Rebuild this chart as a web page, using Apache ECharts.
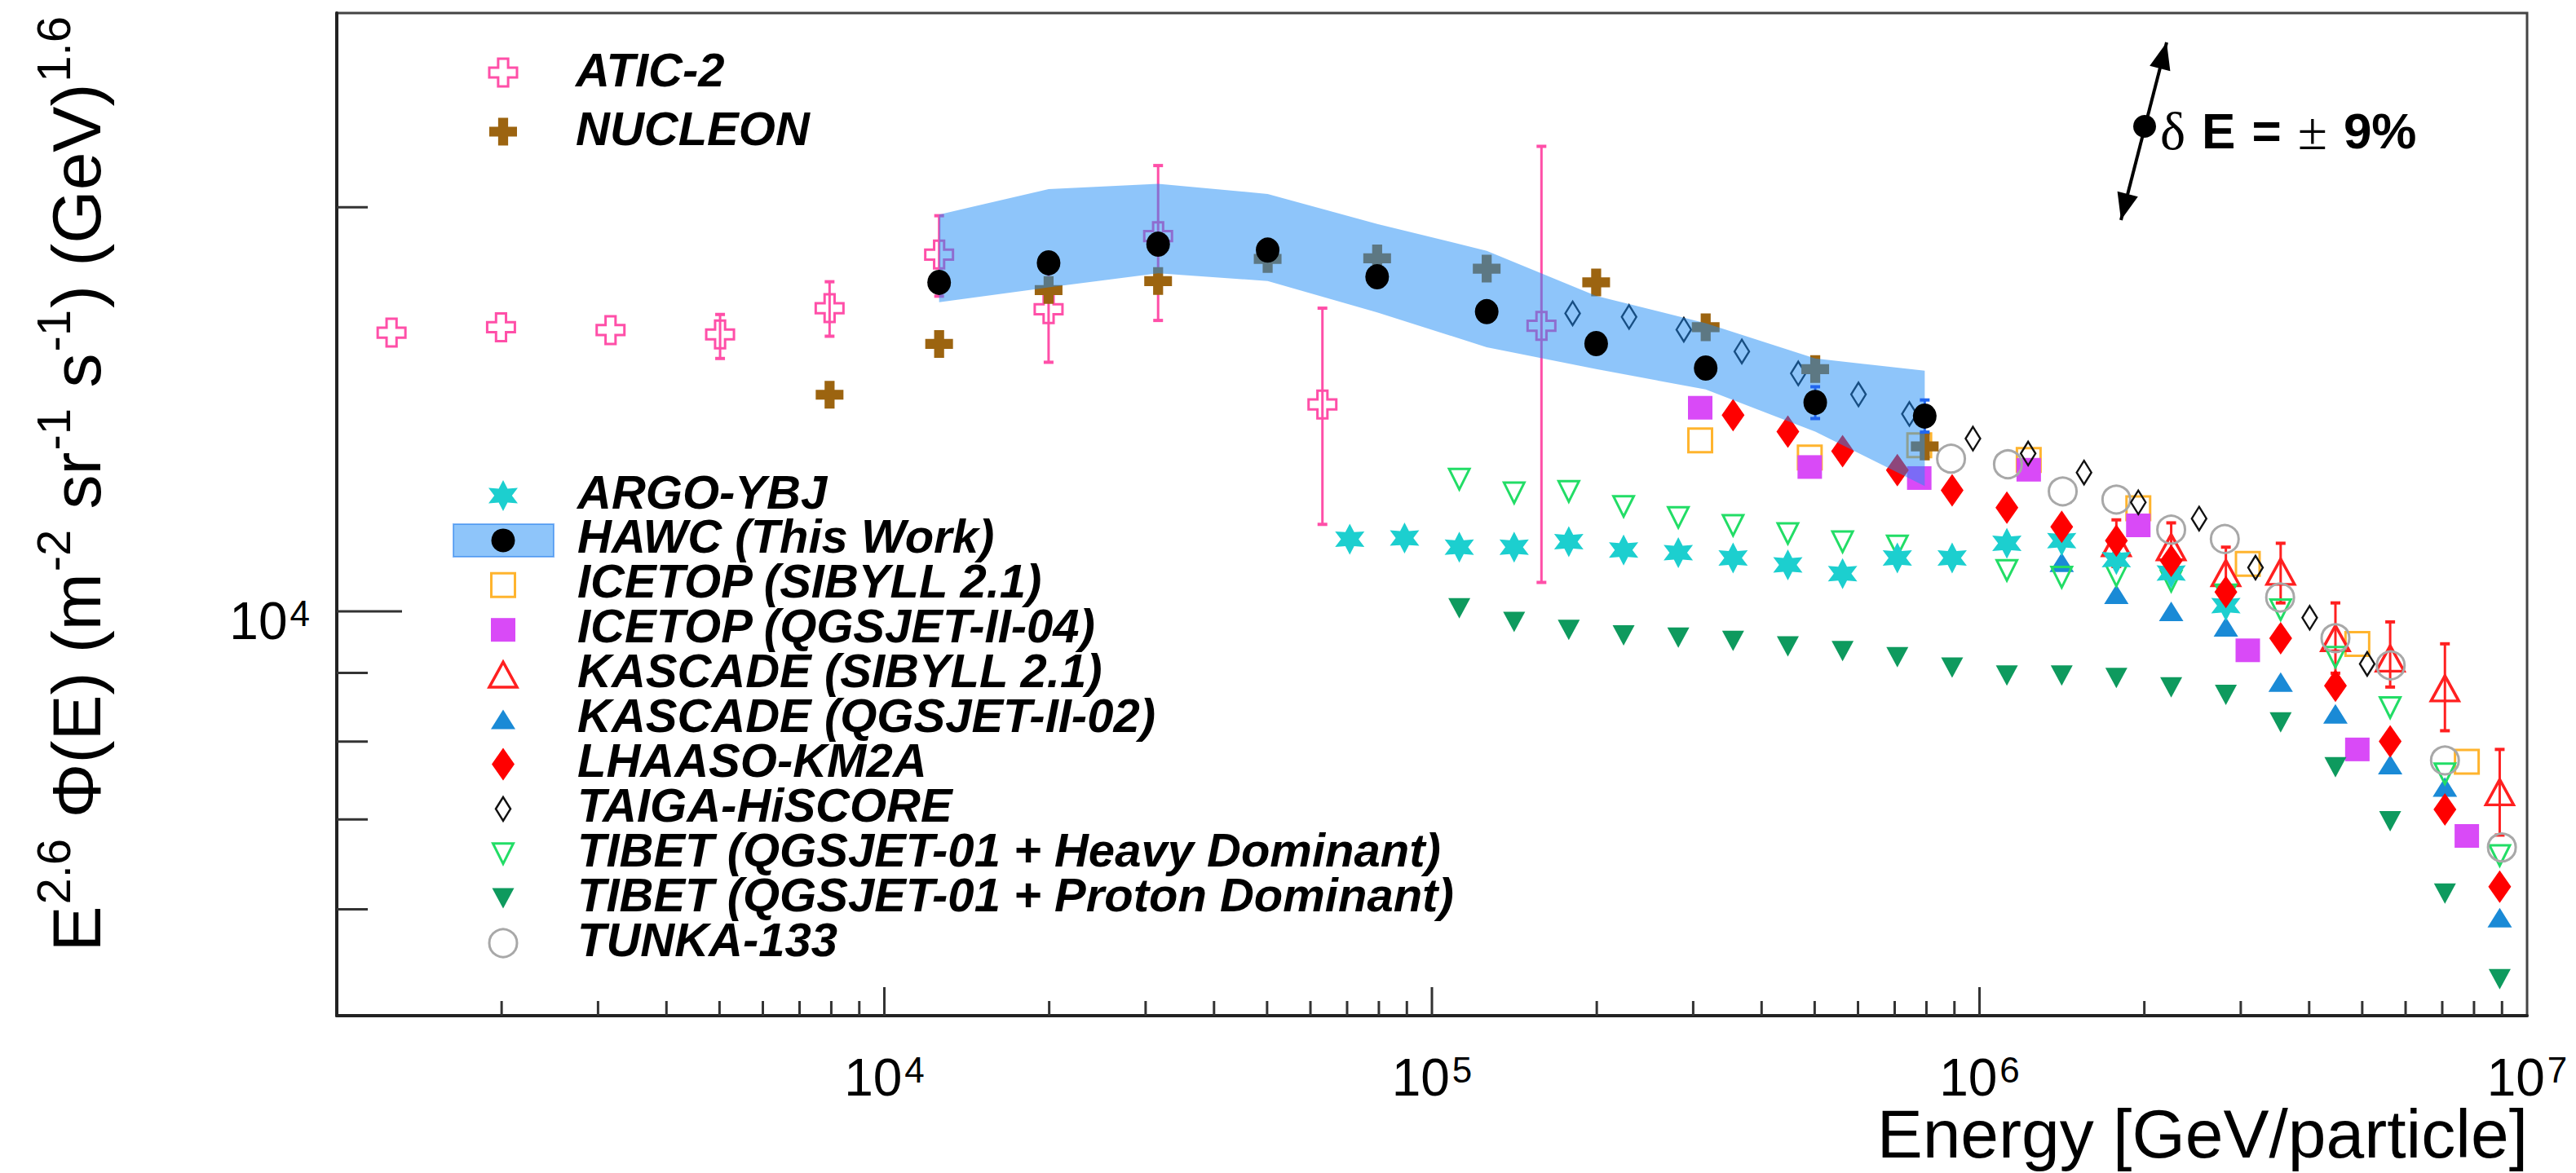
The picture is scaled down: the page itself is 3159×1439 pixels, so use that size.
<!DOCTYPE html>
<html><head><meta charset="utf-8">
<script src="https://cdn.jsdelivr.net/npm/echarts@6/dist/echarts.min.js"></script>
<style>html,body{margin:0;padding:0;background:#fff}#c{width:3159px;height:1439px}</style>
</head><body><div id="c"></div>
<script>
// ---------------- DATA ----------------
const X_MIN = 1000, X_MAX = 1e7, Y_MIN = 5000, Y_MAX = 27900;

const aticE  = [1259, 1995, 3162, 5012, 7943, 12590, 19950, 31620, 63100, 158500];
const aticY  = [16130, 16280, 16200, 16080, 16820, 18440, 16790, 19030, 14260, 16320];
const aticLo = [16130, 16280, 16200, 15430, 16030, 17170, 15330, 16470, 11610, 10510];
const aticHi = [16130, 16280, 16200, 16640, 17600, 19710, 18380, 21480, 16820, 22200];

const nucE = [7943, 12590, 19950, 31620, 50120, 79430, 125900, 199500, 316200, 501200, 794300];
const nucY = [14500, 15820, 17350, 17620, 18300, 18320, 18000, 17580, 16280, 15150, 13270];

const argoE = [70790, 89130, 112200, 141300, 177800, 223900, 281800, 354800, 446700, 562300, 707900, 891300, 1122000, 1413000, 1778000, 2239000, 2818000];
const argoY = [11320, 11340, 11165, 11165, 11270, 11110, 11060, 10960, 10830, 10670, 10960, 10960, 11240, 11290, 10930, 10680, 10100];

const hawcE     = [12590, 19950, 31620, 50120, 79430, 125900, 199500, 316200, 501200, 794300];
const hawcY     = [17580, 18180, 18770, 18580, 17750, 16720, 15830, 15180, 14310, 13980];
const hawcLo    = [17300, 17900, 18480, 18300, 17480, 16460, 15580, 14920, 13920, 13600];
const hawcHi    = [17860, 18460, 19060, 18860, 18020, 16980, 16080, 15440, 14700, 14370];
const hawcSysLo = [16990, 17430, 17860, 17620, 16700, 15730, 15150, 14630, 13610, 12400];
const hawcSysHi = [19750, 20630, 20820, 20460, 19430, 18560, 17180, 16390, 15430, 15110];

const icSibE = [309000, 489800, 776200, 1230000, 1950000, 3090000, 4898000, 7762000];
const icSibY = [13410, 13020, 13295, 12965, 11935, 10850, 9456, 7727];
const icQgsE = [309000, 489800, 776200, 1230000, 1950000, 3090000, 4898000, 7762000];
const icQgsY = [14180, 12810, 12570, 12750, 11590, 9355, 7893, 6805];

const kaSibE  = [1778000, 2239000, 2818000, 3548000, 4467000, 5623000, 7079000, 8913000];
const kaSibY  = [11240, 11165, 10680, 10705, 9552, 9225, 8765, 7335];
const kaSibLo = [10800, 10700, 10200, 10147, 8995, 8784, 8150, 6815];
const kaSibHi = [11700, 11640, 11165, 11240, 10147, 9822, 9460, 7893];

const kaQgsE = [1413000, 1778000, 2239000, 2818000, 3548000, 4467000, 5623000, 7079000, 8913000];
const kaQgsY = [10880, 10300, 10000, 9740, 8860, 8390, 7690, 7400, 5915];

const lhaasoE = [354800, 446700, 562300, 707900, 891300, 1122000, 1413000, 1778000, 2239000, 2818000, 3548000, 4467000, 5623000, 7079000, 8913000];
const lhaasoY = [14000, 13610, 13160, 12740, 12310, 11950, 11560, 11290, 10905, 10337, 9552, 8805, 8003, 7121, 6237];

const taigaE = [180700, 229100, 288400, 368100, 466700, 601200, 744700, 972800, 1227000, 1552000, 1950000, 2518000, 3192000, 4009000, 5105000];
const taigaY = [16670, 16570, 16210, 15615, 15040, 14510, 14030, 13450, 13110, 12690, 12057, 11725, 10780, 9893, 9140];

const tibHE = [112200, 141300, 177800, 223900, 281800, 354800, 446700, 562300, 707900, 1122000, 1413000, 1778000, 2239000, 2818000, 3548000, 4467000, 5623000, 7079000, 8913000];
const tibHY = [12545, 12255, 12285, 11975, 11750, 11590, 11430, 11270, 11190, 10730, 10605, 10630, 10535, 10290, 10030, 9245, 8480, 7570, 6580];

const tibPE = [112200, 141300, 177800, 223900, 281800, 354800, 446700, 562300, 707900, 891300, 1122000, 1413000, 1778000, 2239000, 2818000, 3548000, 4467000, 5623000, 7079000, 8913000];
const tibPY = [10053, 9822, 9687, 9596, 9561, 9507, 9419, 9341, 9245, 9083, 8960, 8960, 8920, 8780, 8665, 8268, 7656, 6977, 6165, 5323];

const tunkaE = [887200, 1127000, 1419000, 1778000, 2239000, 2805000, 3540000, 4467000, 5636000, 7079000, 8995000];
const tunkaY = [12995, 12870, 12285, 12115, 11505, 11322, 10242, 9552, 9117, 7746, 6672];

const xMajorTicks = [10000, 100000, 1000000];
const xMinorTicks = [2000,3000,4000,5000,6000,7000,8000,9000, 20000,30000,40000,50000,60000,70000,80000,90000,
                     200000,300000,400000,500000,600000,700000,800000,900000, 2e6,3e6,4e6,5e6,6e6,7e6,8e6,9e6];
const yMajorTicks = [10000];
const yMinorTicks = [6000, 7000, 8000, 9000, 20000];

const legendTop = ['ATIC-2', 'NUCLEON'];
const legendMain = ['ARGO-YBJ', 'HAWC (This Work)', 'ICETOP (SIBYLL 2.1)', 'ICETOP (QGSJET-II-04)',
  'KASCADE (SIBYLL 2.1)', 'KASCADE (QGSJET-II-02)', 'LHAASO-KM2A', 'TAIGA-HiSCORE',
  'TIBET (QGSJET-01 + Heavy Dominant)', 'TIBET (QGSJET-01 + Proton Dominant)', 'TUNKA-133'];

// ---------------- STYLE ----------------
const FF = '"Liberation Sans", Arial, Helvetica, sans-serif';
const FS = '"Liberation Serif", "DejaVu Serif", serif';
const S_CROSS = [[3.2,0],[6.8,0],[6.8,3.2],[10,3.2],[10,6.8],[6.8,6.8],[6.8,10],[3.2,10],[3.2,6.8],[0,6.8],[0,3.2],[3.2,3.2]];
const S_STAR6 = [[5,0],[6.3,2.75],[9.33,2.5],[7.6,5],[9.33,7.5],[6.3,7.25],[5,10],[3.7,7.25],[0.67,7.5],[2.4,5],[0.67,2.5],[3.7,2.75]];
const S_SQUARE = [[0,0],[10,0],[10,10],[0,10]];
const S_TRI_UP = [[5,0],[10,10],[0,10]];
const S_TRI_DN = [[0,0],[10,0],[5,10]];
const S_DIAMOND = [[5,0],[10,5],[5,10],[0,5]];
const TR = 'rgba(0,0,0,0)';
const BAND = 'rgba(30,140,245,0.5)';

function toPath(pts) { return 'path://M' + pts.map(p => p[0] + ',' + p[1]).join(' L') + ' Z'; }
function fitPts(pts, cx, cy, w, h) {
  const xs = pts.map(p=>p[0]), ys = pts.map(p=>p[1]);
  const x0 = Math.min(...xs), x1 = Math.max(...xs), y0 = Math.min(...ys), y1 = Math.max(...ys);
  return pts.map(p => [cx - w/2 + (p[0]-x0)/(x1-x0)*w, cy - h/2 + (p[1]-y0)/(y1-y0)*h]);
}

const STY = {
  'ATIC-2':   {p:S_CROSS, s:[34,34], fill:TR, stroke:'#ff4fa8', lw:3},
  'NUCLEON':  {p:S_CROSS, s:[34,34], fill:'#9c6410', stroke:TR, lw:0},
  'ARGO-YBJ': {p:S_STAR6, s:[36,38], fill:'#1ccfcf', stroke:TR, lw:0},
  'HAWC (This Work)': {p:null, s:[29,31], fill:'#000', stroke:TR, lw:0},
  'ICETOP (SIBYLL 2.1)':   {p:S_SQUARE, s:[29,29], fill:TR, stroke:'#ffb42e', lw:3},
  'ICETOP (QGSJET-II-04)': {p:S_SQUARE, s:[30,29], fill:'#d94af7', stroke:TR, lw:0},
  'KASCADE (SIBYLL 2.1)':  {p:S_TRI_UP, s:[34,31], fill:TR, stroke:'#ff2020', lw:3.5},
  'KASCADE (QGSJET-II-02)':{p:S_TRI_UP, s:[30,24], fill:'#1a8ad6', stroke:TR, lw:0},
  'LHAASO-KM2A':   {p:S_DIAMOND, s:[28,40], fill:'#ff0000', stroke:TR, lw:0},
  'TAIGA-HiSCORE': {p:S_DIAMOND, s:[18,29], fill:TR, stroke:'#111', lw:2.5},
  'TIBET (QGSJET-01 + Heavy Dominant)':  {p:S_TRI_DN, s:[25,25], fill:TR, stroke:'#22dd66', lw:3},
  'TIBET (QGSJET-01 + Proton Dominant)': {p:S_TRI_DN, s:[27,25], fill:'#0e9a5e', stroke:TR, lw:0},
  'TUNKA-133': {p:null, s:[34,34], fill:TR, stroke:'#a8a8a8', lw:3}
};

function scatter(name, E, Y, z) {
  const st = STY[name];
  return {
    type:'scatter', name, z: z || 3, silent:true, animation:false,
    data: E.map((e,i)=>[e, Y[i]]),
    symbol: st.p ? toPath(st.p) : 'circle',
    symbolSize: st.s,
    itemStyle: {color: st.fill, borderColor: st.stroke, borderWidth: st.lw, opacity: 1},
    emphasis: {disabled:true}
  };
}
function errBars(E, lo, hi, color, z) {
  return {
    type:'custom', z, silent:true, animation:false,
    data: E.map((e,i)=>[e, lo[i], hi[i]]),
    encode: {x:0, y:[1,2]},
    renderItem(params, api) {
      const e = api.value(0), l = api.value(1), h = api.value(2);
      if (l === h) return {type:'group', children:[]};
      const a = api.coord([e, l]), b = api.coord([e, h]);
      return {type:'group', children:[
        {type:'line', shape:{x1:a[0], y1:a[1], x2:b[0], y2:b[1]}, style:{stroke:color, lineWidth:3}},
        {type:'line', shape:{x1:a[0]-6, y1:a[1], x2:a[0]+6, y2:a[1]}, style:{stroke:color, lineWidth:4}},
        {type:'line', shape:{x1:b[0]-6, y1:b[1], x2:b[0]+6, y2:b[1]}, style:{stroke:color, lineWidth:4}}
      ]};
    }
  };
}

const tickSeriesX = {
  type:'custom', z:20, silent:true, animation:false,
  data: xMinorTicks.map(v=>[v, Y_MIN, 0]).concat(xMajorTicks.map(v=>[v, Y_MIN, 1])),
  encode:{x:0, y:1},
  renderItem(params, api) {
    const p = api.coord([api.value(0), Y_MIN]);
    const len = api.value(2) ? 35 : 18;
    return {type:'line', shape:{x1:p[0], y1:p[1], x2:p[0], y2:p[1]-len}, style:{stroke:'#333', lineWidth:3}};
  }
};
const tickSeriesY = {
  type:'custom', z:20, silent:true, animation:false,
  data: yMinorTicks.map(v=>[X_MIN, v, 0]).concat(yMajorTicks.map(v=>[X_MIN, v, 1])),
  encode:{x:0, y:1},
  renderItem(params, api) {
    const p = api.coord([X_MIN, api.value(1)]);
    const len = api.value(2) ? 80 : 38;
    return {type:'line', shape:{x1:p[0], y1:p[1], x2:p[0]+len, y2:p[1]}, style:{stroke:'#333', lineWidth:3}};
  }
};

const bandSeries = {
  type:'custom', z:8, silent:true, animation:false,
  data: hawcE.map((e,i)=>[e, hawcSysLo[i], hawcSysHi[i]]),
  encode:{x:0, y:[1,2]},
  renderItem(params, api) {
    if (params.dataIndex !== 0) return {type:'group', children:[]};
    const up = hawcE.map((e,i)=>api.coord([e, hawcSysHi[i]]));
    const dn = hawcE.map((e,i)=>api.coord([e, hawcSysLo[i]])).reverse();
    return {type:'polygon', shape:{points: up.concat(dn)}, style:{fill: BAND}};
  }
};

// ---------------- LEGEND (graphic) ----------------
function legendMarker(name, cx, cy) {
  const st = STY[name];
  if (!st.p) {
    return {type:'circle', shape:{cx, cy, r: st.s[0]/2}, style:{fill: st.fill, stroke: st.stroke, lineWidth: st.lw}, z:100};
  }
  return {type:'polygon', shape:{points: fitPts(st.p, cx, cy, st.s[0], st.s[1])},
          style:{fill: st.fill, stroke: st.stroke, lineWidth: st.lw}, z:100};
}
const LEGFONT = 'italic bold 58px ' + FF;
const graphics = [];
const topRows = [89, 161.5];
legendTop.forEach((n,i)=>{
  graphics.push(legendMarker(n, 617, topRows[i]));
  graphics.push({type:'text', x:706, y: topRows[i]-4, z:100, style:{text:n, font:LEGFONT, lineHeight:50, fill:'#000', align:'left', verticalAlign:'middle'}});
});
legendMain.forEach((n,i)=>{
  const cy = 608 + 54.9*i;
  if (n === 'HAWC (This Work)') {
    graphics.push({type:'rect', shape:{x:556, y:cy-20, width:123, height:40}, style:{fill:BAND, stroke:'rgba(30,120,235,0.55)', lineWidth:2}, z:99});
  }
  graphics.push(legendMarker(n, 617, cy));
  graphics.push({type:'text', x:708, y: cy-5, z:100, style:{text:n, font:LEGFONT, lineHeight:50, fill:'#000', align:'left', verticalAlign:'middle'}});
});
// axis titles
graphics.push({type:'text', x:3100, y:1391, z:100, style:{text:'Energy [GeV/particle]', font:'84px ' + FF, lineHeight:70, fill:'#000', align:'right', verticalAlign:'middle'}});
graphics.push({type:'text', x:136, y:18, rotation: Math.PI/2, z:100, style:{
  text:'{m|E}{s|2.6}{m| Φ(E) (m}{s|-2}{m| sr}{s|-1}{m| s}{s|-1}{m|) (GeV)}{s|1.6}',
  align:'right', verticalAlign:'bottom', fill:'#000',
  rich:{ m:{fontSize:84, lineHeight:100, verticalAlign:'bottom', fontFamily:FF, fill:'#000'},
         s:{fontSize:58, lineHeight:40, verticalAlign:'top', fontFamily:FF, fill:'#000', padding:[0,2,0,2]} }
}});
// delta E annotation
graphics.push({type:'line', shape:{x1:2601, y1:270, x2:2657, y2:52}, style:{stroke:'#000', lineWidth:4}, z:100});
graphics.push({type:'polygon', shape:{points:[[2657,52],[2661.4,87.2],[2636.2,80.8]]}, style:{fill:'#000'}, z:100});
graphics.push({type:'polygon', shape:{points:[[2601,270],[2621.8,241.2],[2596.6,234.8]]}, style:{fill:'#000'}, z:100});
graphics.push({type:'circle', shape:{cx:2630, cy:155, r:14}, style:{fill:'#000'}, z:100});
graphics.push({type:'text', x:2649, y:160, z:100, style:{
  text:'{g|δ}{b|E}{b|=}{g|±}{b|9%}', align:'left', verticalAlign:'middle', fill:'#000',
  rich:{ g:{fontSize:66, fontFamily:FS, fill:'#000', padding:[0,20,0,0]},
         b:{fontSize:62, fontWeight:'bold', fontFamily:FF, fill:'#000', padding:[0,20,0,0]} }
}});

// ---------------- CHART ----------------
const richX = { b:{fontSize:64, lineHeight:64, verticalAlign:'bottom', fontFamily:FF, color:'#000'},
                s:{fontSize:44, lineHeight:20, verticalAlign:'top', fontFamily:FF, color:'#000', padding:[0,0,0,3]} };
function powLabel(v) {
  const e = Math.log10(v);
  if (Math.abs(e - Math.round(e)) > 1e-6) return '';
  return '{b|10}{s|' + Math.round(e) + '}';
}

const chart = echarts.init(document.getElementById('c'), null, {renderer:'svg', width:3159, height:1439});
chart.setOption({
  animation:false,
  backgroundColor:'#fff',
  grid:{left:413, right:60, top:16, bottom:193, show:true, borderColor:'#444', borderWidth:3, outerBoundsMode:'none', containLabel:false},
  xAxis:{type:'log', logBase:10, min:X_MIN, max:X_MAX,
    axisLine:{show:true, lineStyle:{color:'#222', width:4}}, axisTick:{show:false}, splitLine:{show:false}, minorTick:{show:false},
    axisLabel:{margin:44, formatter: v => (Math.abs(v - X_MIN) < 1 ? '' : powLabel(v)), rich: richX, showMinLabel:true, showMaxLabel:true, hideOverlap:false}},
  yAxis:{type:'log', logBase:10, min:Y_MIN, max:Y_MAX,
    axisLine:{show:true, lineStyle:{color:'#222', width:4}}, axisTick:{show:false}, splitLine:{show:false}, minorTick:{show:false},
    axisLabel:{margin:33, padding:[24,0,0,0], formatter: v => (Math.abs(v - 10000) < 1 ? powLabel(10000) : ''), rich: richX}},
  series:[
    scatter('ICETOP (SIBYLL 2.1)', icSibE, icSibY, 3),
    scatter('ICETOP (QGSJET-II-04)', icQgsE, icQgsY, 3),
    errBars(kaSibE, kaSibLo, kaSibHi, '#ff2020', 3),
    scatter('KASCADE (SIBYLL 2.1)', kaSibE, kaSibY, 3),
    scatter('KASCADE (QGSJET-II-02)', kaQgsE, kaQgsY, 3),
    scatter('TIBET (QGSJET-01 + Heavy Dominant)', tibHE, tibHY, 3),
    scatter('TIBET (QGSJET-01 + Proton Dominant)', tibPE, tibPY, 3),
    scatter('ARGO-YBJ', argoE, argoY, 4),
    scatter('LHAASO-KM2A', lhaasoE, lhaasoY, 4),
    scatter('TUNKA-133', tunkaE, tunkaY, 5),
    scatter('TAIGA-HiSCORE', taigaE, taigaY, 5),
    errBars(aticE, aticLo, aticHi, '#ff4fa8', 6),
    scatter('ATIC-2', aticE, aticY, 6),
    scatter('NUCLEON', nucE, nucY, 6),
    bandSeries,
    errBars(hawcE, hawcLo, hawcHi, '#2266ee', 9),
    scatter('HAWC (This Work)', hawcE, hawcY, 10),
    tickSeriesX, tickSeriesY
  ],
  graphic: graphics
});
</script></body></html>
